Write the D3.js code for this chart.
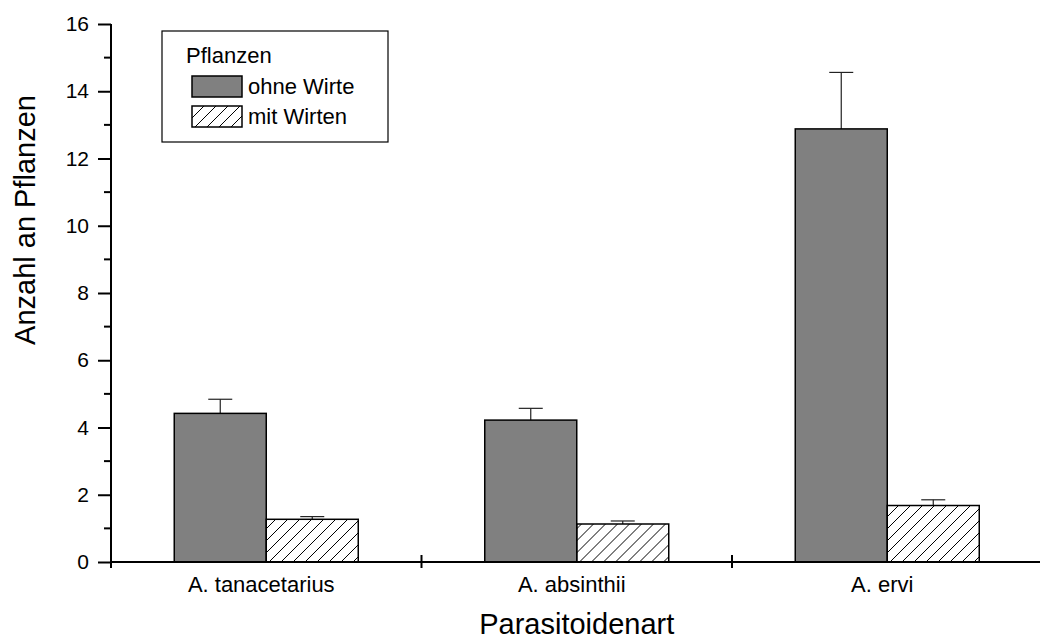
<!DOCTYPE html>
<html>
<head>
<meta charset="utf-8">
<script src="https://cdn.jsdelivr.net/npm/d3@7"></script>
<style>
  html, body { margin: 0; padding: 0; background: #fff; }
  svg { display: block; font-family: "Liberation Sans", Arial, Helvetica, sans-serif; }
</style>
</head>
<body>
<svg id="chart" width="1040" height="641"></svg>
<script>
// Parasitoid species on the x axis
const categories = ["A. tanacetarius", "A. absinthii", "A. ervi"];
// Mean number of plants visited, and upper standard error
const ohneWirte = [4.42, 4.22, 12.88];
const ohneWirteErr = [0.42, 0.35, 1.68];
const mitWirten = [1.27, 1.13, 1.68];
const mitWirtenErr = [0.08, 0.09, 0.17];
const seriesNames = ["ohne Wirte", "mit Wirten"];
const yTicks = [0, 2, 4, 6, 8, 10, 12, 14, 16];
const yMinorTicks = [1, 3, 5, 7, 9, 11, 13, 15];

const svg = d3.select("#chart");
const plot = { left: 111, right: 1042.5, top: 24, bottom: 562 };
const barWidth = 92;

const x = d3.scaleBand().domain(categories).range([plot.left, plot.right]).paddingInner(0).paddingOuter(0);
const xSub = d3.scaleBand().domain(seriesNames)
  .range([x.bandwidth() / 2 - barWidth, x.bandwidth() / 2 + barWidth]);
const y = d3.scaleLinear().domain([0, 16]).range([plot.bottom, plot.top]);

// hatch pattern for the "mit Wirten" bars
const defs = svg.append("defs");
defs.append("pattern")
  .attr("id", "hatch")
  .attr("patternUnits", "userSpaceOnUse")
  .attr("width", 12).attr("height", 12)
  .append("path")
  .attr("d", "M0,12 L12,0 M-2,2 L2,-2 M10,14 L14,10")
  .attr("stroke", "#000").attr("stroke-width", 1);

const groups = categories.map((c, i) => ({
  cat: c,
  bars: [
    { name: seriesNames[0], value: ohneWirte[i], err: ohneWirteErr[i] },
    { name: seriesNames[1], value: mitWirten[i], err: mitWirtenErr[i] }
  ]
}));

const g = svg.append("g");

const grp = g.selectAll("g.grp").data(groups).enter().append("g")
  .attr("transform", d => `translate(${x(d.cat)},0)`);

// error bars (upper only)
grp.selectAll("line.err").data(d => d.bars).enter().append("line")
  .attr("x1", d => xSub(d.name) + barWidth / 2)
  .attr("x2", d => xSub(d.name) + barWidth / 2)
  .attr("y1", d => y(d.value))
  .attr("y2", d => y(d.value + d.err))
  .attr("stroke", "#222").attr("stroke-width", 1.2);
grp.selectAll("line.cap").data(d => d.bars).enter().append("line")
  .attr("x1", d => xSub(d.name) + barWidth / 2 - 12)
  .attr("x2", d => xSub(d.name) + barWidth / 2 + 12)
  .attr("y1", d => y(d.value + d.err))
  .attr("y2", d => y(d.value + d.err))
  .attr("stroke", "#222").attr("stroke-width", 1.2);

grp.selectAll("rect").data(d => d.bars).enter().append("rect")
  .attr("x", d => xSub(d.name))
  .attr("width", barWidth)
  .attr("y", d => y(d.value))
  .attr("height", d => y(0) - y(d.value))
  .attr("fill", d => d.name === seriesNames[0] ? "#808080" : "url(#hatch)")
  .attr("stroke", "#000").attr("stroke-width", 1.5);

// y axis
const yAxis = g.append("g").attr("transform", `translate(${plot.left},0)`)
  .call(d3.axisLeft(y).tickValues(yTicks).tickSize(13).tickPadding(9).tickFormat(d3.format("d")));
yAxis.select(".domain").remove();
yAxis.selectAll(".tick line").attr("stroke", "#000").attr("stroke-width", 2);
yAxis.selectAll(".tick text").attr("font-size", 21).attr("fill", "#000")
  .attr("font-family", "'Liberation Sans', Arial, sans-serif");
yAxis.append("g").selectAll("line").data(yMinorTicks).enter().append("line")
  .attr("x1", -7).attr("x2", 0)
  .attr("y1", d => y(d)).attr("y2", d => y(d))
  .attr("stroke", "#000").attr("stroke-width", 2);
g.append("line")
  .attr("x1", plot.left).attr("x2", plot.left)
  .attr("y1", y(16)).attr("y2", y(0) + 6)
  .attr("stroke", "#000").attr("stroke-width", 2);

// x axis
g.append("line")
  .attr("x1", plot.left).attr("x2", plot.right)
  .attr("y1", y(0)).attr("y2", y(0))
  .attr("stroke", "#000").attr("stroke-width", 2);
g.selectAll("line.xtick").data(categories.slice(1).concat(["end"])).enter().append("line")
  .attr("x1", (d, i) => x(categories[0]) + x.step() * (i + 1))
  .attr("x2", (d, i) => x(categories[0]) + x.step() * (i + 1))
  .attr("y1", y(0) - 7).attr("y2", y(0) + 6)
  .attr("stroke", "#000").attr("stroke-width", 2);
g.selectAll("text.xlab").data(categories).enter().append("text")
  .attr("x", d => x(d) + x.bandwidth() / 2 - 5)
  .attr("y", 592)
  .attr("text-anchor", "middle")
  .attr("font-size", 22)
  .text(d => d);

// axis titles
g.append("text")
  .attr("x", (plot.left + plot.right) / 2).attr("y", 634)
  .attr("text-anchor", "middle").attr("font-size", 29)
  .text("Parasitoidenart");
g.append("text")
  .attr("transform", "translate(35,220) rotate(-90)")
  .attr("text-anchor", "middle").attr("font-size", 29)
  .text("Anzahl an Pflanzen");

// legend
const lg = g.append("g");
lg.append("rect").attr("x", 162).attr("y", 31).attr("width", 226).attr("height", 111)
  .attr("fill", "#fff").attr("stroke", "#000").attr("stroke-width", 1.2);
lg.append("text").attr("x", 186).attr("y", 63).attr("font-size", 22).text("Pflanzen");
const items = lg.selectAll("g.item").data(seriesNames).enter().append("g")
  .attr("transform", (d, i) => `translate(192,${76 + i * 30})`);
items.append("rect").attr("width", 50).attr("height", 21)
  .attr("fill", (d, i) => i === 0 ? "#808080" : "url(#hatch)")
  .attr("stroke", "#000").attr("stroke-width", 1.5);
items.append("text").attr("x", 56).attr("y", 17.5).attr("font-size", 22).text(d => d);
</script>
</body>
</html>
